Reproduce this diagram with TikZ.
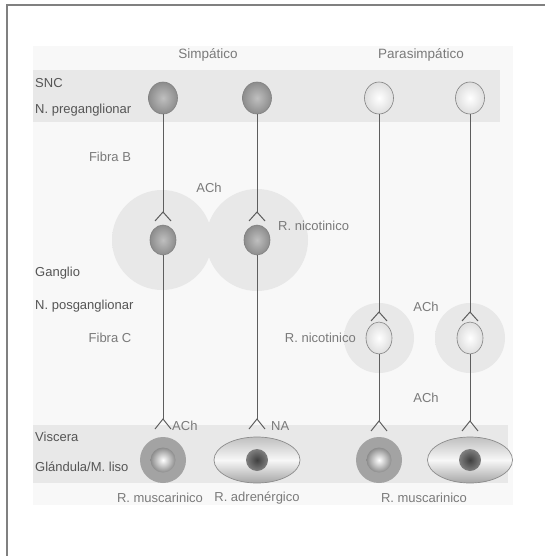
\documentclass[tikz,border=0pt]{standalone}
\usepackage{fontspec}
\setmainfont{Liberation Sans}
\usetikzlibrary{shapes.geometric}
\definecolor{panel}{HTML}{F8F8F8}
\definecolor{band}{HTML}{E8E8E8}
\definecolor{wire}{HTML}{5E5E5E}
\definecolor{txt}{HTML}{7A7A7A}
\definecolor{txtdark}{HTML}{555555}
\pgfdeclareradialshading{glow}{\pgfpoint{0bp}{0bp}}{color(0bp)=(black!9); color(30bp)=(black!9); color(50bp)=(panel); color(100bp)=(panel)}
\tikzset{
  lbl/.style={inner sep=0pt, text=txt, font=\fontsize{13}{15}\selectfont},
  side/.style={inner sep=0pt, anchor=west, text=txtdark, font=\fontsize{13}{15}\selectfont},
  head/.style={inner sep=0pt, text=txt, font=\fontsize{13.5}{15}\selectfont},
  darkcell/.style={ellipse, draw=black!50, line width=0.6pt, inner color=black!25, outer color=black!45, inner sep=0pt},
  lightcell/.style={ellipse, draw=black!50, line width=0.6pt, inner color=white, outer color=black!13, inner sep=0pt},
  wireline/.style={draw=wire, line width=1pt},
  fork/.style={draw=wire, line width=1pt, line join=miter},
  glowc/.style={circle, shading=glow, inner sep=0pt, minimum size=#1},
}
\begin{document}
\begin{tikzpicture}[x=1pt, y=-1pt]
\useasboundingbox (0,0) rectangle (545,556);
% frame
\draw[black!50, line width=1.4pt] (7,556) -- (7,5) -- (545,5);
% panel and bands
\fill[panel] (33,46) rectangle (513,505);
\fill[band] (33,70) rectangle (500,122);
\fill[band] (33,425) rectangle (508,483);
% glows
\node[glowc=100pt] (g1) at (162,240) {};
\node[glowc=102pt] (g2) at (257,240) {};
\node[glowc=70pt] (g3) at (379,338) {};
\node[glowc=70pt] (g4) at (470,338) {};
% headings
\node[head] (hs) at (208,55) {Simpático};
\node[head] (hp) at (421,55) {Parasimpático};
% side labels
\node[side] (l1) at (35,83) {SNC};
\node[side] (l2) at (35,110) {N. preganglionar};
\node[side] (l3) at (35,273) {Ganglio};
\node[side] (l4) at (35,306) {N. posganglionar};
\node[side] (l5) at (35,437) {Viscera};
\node[side] (l6) at (35,467) {Glándula/M. liso};
\node[lbl] (fb) at (110,157) {Fibra B};
\node[lbl] (fc) at (110,338) {Fibra C};
% top neurons
\node[darkcell, minimum width=29pt, minimum height=32pt] (t1) at (163,98) {};
\node[darkcell, minimum width=29pt, minimum height=32pt] (t2) at (257,98) {};
\node[lightcell, minimum width=29pt, minimum height=32pt] (t3) at (379,98) {};
\node[lightcell, minimum width=29pt, minimum height=32pt] (t4) at (470,98) {};
% ganglion neurons
\node[darkcell, minimum width=26pt, minimum height=30pt] (n1) at (163,240) {};
\node[darkcell, minimum width=26pt, minimum height=30pt] (n2) at (257,240) {};
\node[lightcell, minimum width=26pt, minimum height=32pt] (n3) at (379,338) {};
\node[lightcell, minimum width=26pt, minimum height=32pt] (n4) at (470,338) {};
% fork apexes
\coordinate (a1) at (163,212);
\coordinate (a2) at (257,212);
\coordinate (a3) at (379,312);
\coordinate (a4) at (470,312);
\coordinate (b1) at (163,419);
\coordinate (b2) at (257,419);
\coordinate (b3) at (379,421);
\coordinate (b4) at (470,421);
% axons
\foreach \i in {1,2,3,4} {
  \draw[wireline] (t\i.south) -- (a\i);
  \draw[wireline] (n\i.south) -- (b\i);
  \draw[fork] ([shift={(-8,9)}]a\i) -- (a\i) -- ([shift={(8,9)}]a\i);
  \draw[fork] ([shift={(-8,10)}]b\i) -- (b\i) -- ([shift={(8,10)}]b\i);
}
% target cells
\node[circle, fill=black!36, minimum size=46pt, inner sep=0pt] (c1) at (163,460) {};
\node[circle, inner color=white, outer color=black!45, minimum size=25pt, inner sep=0pt] (c1i) at (163,460) {};
\node[circle, fill=black!36, minimum size=46pt, inner sep=0pt] (c3) at (379,460) {};
\node[circle, inner color=white, outer color=black!45, minimum size=25pt, inner sep=0pt] (c3i) at (379,460) {};
\node[ellipse, draw=black!45, line width=0.7pt, top color=black!25, bottom color=black!35, middle color=black!3, minimum width=86pt, minimum height=46pt, inner sep=0pt] (c2) at (257,460) {};
\node[circle, inner color=black!75, outer color=black!50, minimum size=22pt, inner sep=0pt] (c2i) at (257,460) {};
\node[ellipse, draw=black!45, line width=0.7pt, top color=black!25, bottom color=black!35, middle color=black!3, minimum width=85pt, minimum height=46pt, inner sep=0pt] (c4) at (470,460) {};
\node[circle, inner color=black!75, outer color=black!50, minimum size=22pt, inner sep=0pt] (c4i) at (470,460) {};
% transmitter / receptor labels
\node[lbl] (ach1) at (209,188) {ACh};
\node[lbl, anchor=west] (rn1) at (278,226) {R. nicotinico};
\node[lbl, anchor=east] (rn2) at (356,338) {R. nicotinico};
\node[lbl] (ach2) at (426,307) {ACh};
\node[lbl] (ach3) at (426,398) {ACh};
\node[lbl, anchor=west] (ach4) at (172,426) {ACh};
\node[lbl, anchor=west] (na) at (271,426) {NA};
\node[lbl] (rm1) at (160,498) {R. muscarinico};
\node[lbl] (ra) at (257,498) {R. adrenérgico};
\node[lbl] (rm2) at (424,498) {R. muscarinico};
\end{tikzpicture}
\end{document}
